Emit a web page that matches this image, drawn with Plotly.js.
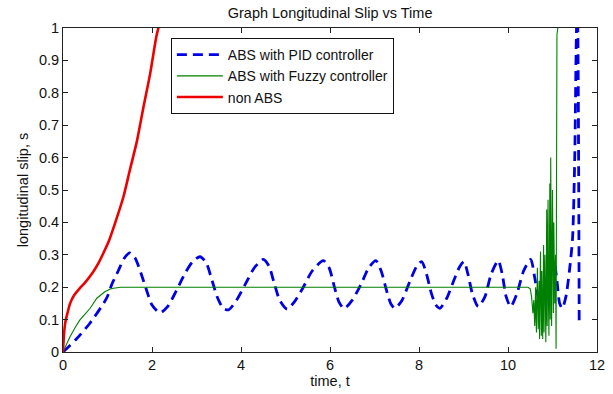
<!DOCTYPE html>
<html>
<head>
<meta charset="utf-8">
<script src="https://cdn.plot.ly/plotly-3.0.1.min.js"></script>
<style>html,body{margin:0;padding:0;background:#fff;}#chart{width:613px;height:394px;}</style>
</head>
<body>
<div id="chart"></div>
<script>
// ABS with PID controller (time, slip)
const pidT = [0,0.3,0.6,0.98,1.1,1.24,1.38,1.5,1.62,1.76,1.88,2.0,2.18,2.35,2.55,2.75,2.92,3.08,3.22,3.35,3.48,3.6,3.72,3.9,4.1,4.3,4.5,4.63,4.75,4.87,5.04,5.2,5.4,5.6,5.85,5.98,6.1,6.2,6.32,6.5,6.7,6.87,7.03,7.15,7.27,7.37,7.46,7.62,7.8,7.95,8.06,8.17,8.28,8.38,8.47,8.62,8.78,8.92,9.01,9.1,9.2,9.33,9.48,9.62,9.78,9.87,9.96,10.06,10.2,10.35,10.51,10.6,10.68,10.76,10.85,10.95,11.03,11.1,11.16,11.22,11.3,11.38,11.45,11.5,11.54,11.56,11.6];
const pidS = [0,0.04,0.088,0.166,0.21,0.25,0.29,0.306,0.29,0.24,0.19,0.145,0.121,0.14,0.19,0.245,0.28,0.294,0.275,0.22,0.165,0.135,0.13,0.16,0.21,0.26,0.286,0.265,0.21,0.16,0.132,0.155,0.2,0.25,0.282,0.26,0.2,0.155,0.134,0.16,0.21,0.26,0.282,0.25,0.19,0.148,0.135,0.16,0.22,0.265,0.279,0.24,0.18,0.145,0.135,0.165,0.22,0.265,0.279,0.24,0.18,0.14,0.17,0.24,0.282,0.24,0.17,0.14,0.18,0.25,0.286,0.23,0.17,0.15,0.18,0.26,0.28,0.22,0.15,0.135,0.17,0.25,0.35,0.6,1.0,1.05,0.08];

// ABS with Fuzzy controller (time, slip)
const fuzzyT = [0,0.05,0.157,0.27,0.38,0.5,0.61,0.76,0.94,1.05,1.13,1.3,10.45,10.5,10.53,10.56,10.58,10.6,10.62,10.63,10.64,10.66,10.67,10.68,10.7,10.71,10.73,10.74,10.75,10.76,10.77,10.78,10.8,10.81,10.82,10.83,10.85,10.86,10.87,10.88,10.9,10.91,10.92,10.94,10.95,10.96,10.98,11.0,11.01,11.02,11.03,11.05,11.06,11.07,11.08,11.1,11.12,11.15];
const fuzzyS = [0,0.015,0.047,0.075,0.099,0.118,0.135,0.166,0.186,0.194,0.197,0.2,0.2,0.195,0.17,0.12,0.16,0.08,0.2,0.1,0.06,0.26,0.12,0.07,0.22,0.04,0.31,0.1,0.05,0.25,0.12,0.04,0.33,0.06,0.22,0.3,0.03,0.2,0.44,0.08,0.47,0.15,0.05,0.52,0.1,0.6,0.08,0.5,0.18,0.12,0.4,0.15,0.25,0.3,0.01,0.98,1.0,1.02];

// non ABS (time, slip)
const nonT = [0,0.02,0.05,0.1,0.16,0.25,0.38,0.5,0.68,0.8,0.906,1.04,1.2,1.36,1.5,1.66,1.8,1.96,2.1,2.2];
const nonS = [0,0.05,0.09,0.12,0.15,0.175,0.197,0.215,0.248,0.275,0.305,0.346,0.41,0.48,0.56,0.65,0.75,0.86,0.975,1.03];

const xTicks = [0,2,4,6,8,10,12];
const yTicks = [0,0.1,0.2,0.3,0.4,0.5,0.6,0.7,0.8,0.9,1];
const yTickText = ['0','0.1','0.2','0.3','0.4','0.5','0.6','0.7','0.8','0.9','1'];

const font = 'Liberation Sans, Arial, Helvetica, sans-serif';
const fs = 14.5;

const traces = [
  {x: pidT, y: pidS, name: 'ABS with PID controller', mode: 'lines',
   line: {color: '#0000e6', width: 2.8, dash: '10px,6px', shape: 'spline', smoothing: 0.7}},
  {x: fuzzyT, y: fuzzyS, name: 'ABS with Fuzzy controller', mode: 'lines',
   line: {color: '#008000', width: 1.1}},
  {x: nonT, y: nonS, name: 'non ABS', mode: 'lines',
   line: {color: '#ee0000', width: 2.6, shape: 'spline', smoothing: 0.6}}
];

const axisCommon = {
  showgrid: false, zeroline: false, showline: true, linecolor: '#222', linewidth: 1,
  mirror: 'ticks', ticks: 'inside', ticklen: 5, tickcolor: '#222', tickwidth: 1,
  tickfont: {family: font, size: fs, color: '#111'}
};

const layout = {
  width: 613, height: 394,
  margin: {l: 63, r: 16, t: 28, b: 42},
  paper_bgcolor: '#fff', plot_bgcolor: '#fff',
  title: {text: 'Graph Longitudinal Slip vs Time', font: {family: font, size: fs, color: '#111'},
          x: 0.5385, xanchor: 'center', y: 0.967, yanchor: 'middle'},
  xaxis: Object.assign({}, axisCommon, {range: [0, 12], tickvals: xTicks, ticktext: xTicks.map(String),
    title: {text: 'time, t', font: {family: font, size: fs, color: '#111'}, standoff: 3}}),
  yaxis: Object.assign({}, axisCommon, {range: [0, 1], tickvals: yTicks, ticktext: yTickText,
    title: {text: 'longitudinal slip, s', font: {family: font, size: fs, color: '#111'}, standoff: 6}}),
  showlegend: true,
  legend: {x: 0.202, y: 0.969, xanchor: 'left', yanchor: 'top', bgcolor: '#fff', itemwidth: 46,
           bordercolor: '#111', borderwidth: 1, font: {family: font, size: 14, color: '#111'}}
};

Plotly.newPlot('chart', traces, layout, {displayModeBar: false, staticPlot: true});
</script>
</body>
</html>
